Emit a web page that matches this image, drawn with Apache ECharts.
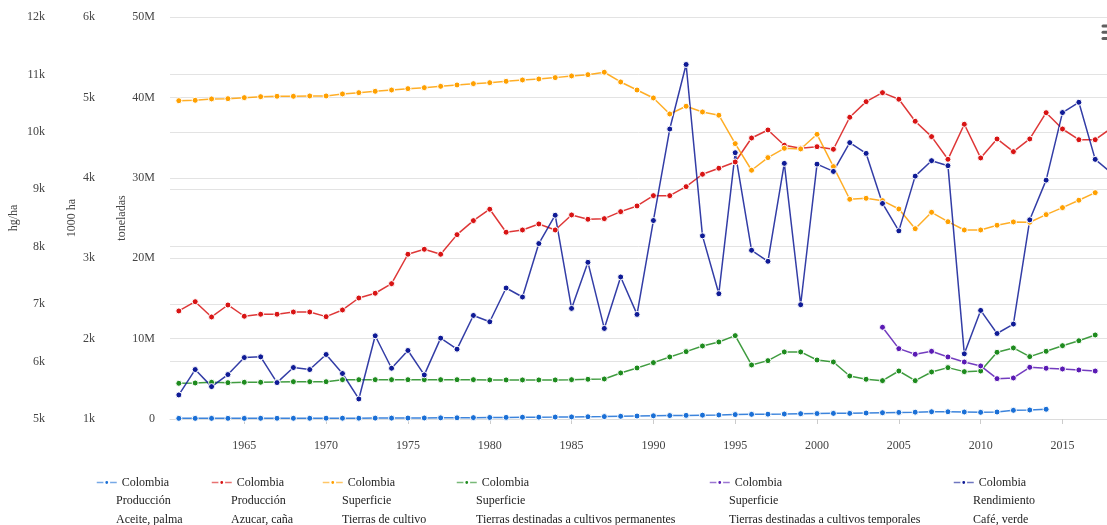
<!DOCTYPE html>
<html>
<head>
<meta charset="utf-8">
<script src="https://cdn.jsdelivr.net/npm/echarts@6/dist/echarts.min.js"></script>
<style>
html,body{margin:0;padding:0;background:#fff;}
#container{width:1107px;height:525px;}
</style>
</head>
<body>
<div id="container"></div>
<script>
// years 1961 - 2018
var years = [];
for (var y = 1961; y <= 2018; y++) { years.push(y); }

var xTicks = [1965, 1970, 1975, 1980, 1985, 1990, 1995, 2000, 2005, 2010, 2015];

// toneladas
var palmaProd = [0.08,0.08,0.08,0.08,0.08,0.09,0.09,0.09,0.09,0.1,0.1,0.1,0.11,0.11,0.12,0.13,0.14,0.15,0.17,0.19,
  0.2,0.22,0.23,0.24,0.26,0.28,0.3,0.34,0.37,0.4,0.43,0.45,0.48,0.5,0.55,0.58,0.6,0.62,0.66,0.68,
  0.7,0.7,0.74,0.78,0.82,0.85,0.9,0.9,0.87,0.83,0.87,1.08,1.12,1.21,null,null,null,null];
var canaProd = [13.44,14.59,12.69,14.18,12.78,13.03,13.03,13.31,13.31,12.73,13.56,15.05,15.64,16.83,20.49,21.11,20.49,22.93,24.67,26.09,
  23.23,23.51,24.26,23.51,25.38,24.84,24.92,25.79,26.5,27.78,27.78,28.9,30.44,31.19,31.97,34.95,35.95,34.05,33.67,33.87,
  33.55,37.53,39.47,40.59,39.77,37.03,35.12,32.3,36.66,32.47,34.83,33.25,34.83,38.1,36.07,34.74,34.74,36.2];
// 1000 ha
var tierrasCultivo = [4959,4964,4981,4984,4997,5009,5014,5014,5018,5018,5043,5059,5076,5092,5109,5121,5138,5155,5171,5183,
  5200,5217,5229,5246,5267,5283,5313,5192,5092,4993,4794,4890,4819,4778,4425,4094,4251,4367,4359,4541,
  4139,3733,3745,3716,3612,3367,3571,3454,3351,3351,3410,3451,3447,3542,3629,3721,3815,null];
var tierrasPermanentes = [1444,1448,1457,1452,1457,1457,1461,1464,1464,1464,1489,1489,1489,1489,1489,1489,1489,1489,1489,1486,
  1486,1486,1486,1486,1489,1494,1498,1573,1635,1701,1772,1838,1908,1958,2037,1672,1726,1834,1834,1734,
  1709,1535,1494,1477,1597,1477,1585,1639,1589,1597,1830,1884,1776,1842,1912,1974,2045,null];
var tierrasTemporales = [null,null,null,null,null,null,null,null,null,null,null,null,null,null,null,null,null,null,null,null,
  null,null,null,null,null,null,null,null,null,null,null,null,null,null,null,null,null,null,null,null,
  null,null,null,2141,1875,1805,1842,1772,1709,1660,1502,1510,1643,1631,1622,1610,1597,null];
// hg/ha
var cafeRend = [5419,5861,5564,5774,6070,6082,5634,5896,5861,6123,5792,5349,6449,5884,6193,5768,6408,6216,6803,6693,
  7281,7124,8055,8548,6926,7728,6577,7473,6821,8456,10049,11173,8189,7182,9637,7938,7746,9451,6990,9438,
  9311,9812,9625,8753,8276,9229,9498,9411,6135,6891,6489,6653,8468,9159,10336,10515,9521,9280];

var legendLines = [
  ['Colombia', 'Producción', 'Aceite, palma'],
  ['Colombia', 'Producción', 'Azucar, caña'],
  ['Colombia', 'Superficie', 'Tierras de cultivo'],
  ['Colombia', 'Superficie', 'Tierras destinadas a cultivos permanentes'],
  ['Colombia', 'Superficie', 'Tierras destinadas a cultivos temporales'],
  ['Colombia', 'Rendimiento', 'Café, verde']
];
var legendX = [116, 231, 342, 476, 729, 973];
var colors = ['#1a6fd6', '#d81414', '#ffa000', '#1e8b1e', '#5a1ab4', '#0f1b96'];

var FONT = '"Liberation Serif", "DejaVu Serif", serif';

function $each(arr, fn) { for (var i = 0; i < arr.length; i++) fn(i, arr[i]); }
function $extend(a, b) { for (var k in b) a[k] = b[k]; return a; }

function pairs(values, scale) {
  var out = [];
  for (var i = 0; i < years.length; i++) {
    if (values[i] != null) out.push([years[i], values[i] * scale]);
  }
  return out;
}

function kFmt(v) { return v / 1000 + 'k'; }

var chart = echarts.init(document.getElementById('container'));

var seriesDefs = [
  { data: pairs(palmaProd, 1e6), yAxisIndex: 0 },
  { data: pairs(canaProd, 1e6), yAxisIndex: 0 },
  { data: pairs(tierrasCultivo, 1), yAxisIndex: 1 },
  { data: pairs(tierrasPermanentes, 1), yAxisIndex: 1 },
  { data: pairs(tierrasTemporales, 1), yAxisIndex: 1 },
  { data: pairs(cafeRend, 1), yAxisIndex: 2 }
];

var series = [];
var legends = [];
var graphics = [];
$each(seriesDefs, function (i, s) {
  var name = legendLines[i].join(' ');
  series.push({
    name: name,
    type: 'line',
    yAxisIndex: s.yAxisIndex,
    data: s.data,
    symbol: 'circle',
    symbolSize: 6,
    showAllSymbol: true,
    clip: true,
    itemStyle: { color: colors[i], borderColor: '#fff', borderWidth: 1 },
    lineStyle: { color: colors[i], width: 1.5, opacity: 0.85 },
    emphasis: { disabled: true }
  });
  // legend: icon + first line, the two other lines as plain text below
  legends.push({
    data: [name],
    left: legendX[i] - 25,
    top: 468.5,
    itemWidth: 20,
    itemHeight: 6,
    selectedMode: false,
    formatter: function () { return legendLines[i][0]; },
    lineStyle: { width: 1.5, opacity: 0.6 },
    textStyle: { fontFamily: FONT, fontSize: 12, color: '#222', lineHeight: 18 }
  });
  for (var k = 1; k < 3; k++) {
    graphics.push({
      type: 'text',
      left: legendX[i],
      top: 477 + k * 18.3,
      style: { text: legendLines[i][k], font: '12px ' + FONT, fill: '#222' }
    });
  }
});

// menu icon (cut at the right edge)
$each([24.5, 30.7, 37], function (i, yy) {
  graphics.push({ type: 'rect', shape: { x: 1101.5, y: yy, width: 10, height: 3, r: 1.5 }, style: { fill: '#5f5f5f' } });
});

var axisLabelStyle = { fontFamily: FONT, fontSize: 12, color: '#444' };
var nameStyle = { fontFamily: FONT, fontSize: 12, color: '#444' };

var option = {
  animation: false,
  grid: { left: 170, right: 0, top: 17, bottom: 106, outerBoundsMode: 'none', containLabel: false },
  legend: legends,
  graphic: graphics,
  xAxis: {
    type: 'value',
    min: 1960.46,
    max: 2017.72,
    splitLine: { show: false },
    axisLine: { show: true, lineStyle: { color: '#dcdcdc', width: 1 } },
    axisTick: { show: true, customValues: xTicks, length: 5, lineStyle: { color: '#ccc' } },
    axisLabel: $extend({ customValues: xTicks, margin: 21, formatter: function (v) { return String(v); } }, axisLabelStyle)
  },
  yAxis: [
    {
      type: 'value', position: 'left', offset: 0,
      min: 0, max: 50e6, interval: 10e6,
      name: 'toneladas', nameLocation: 'middle', nameGap: 42, nameMoveOverlap: false, nameTextStyle: nameStyle,
      axisLine: { show: false }, axisTick: { show: false },
      splitLine: { show: true, lineStyle: { color: '#e3e3e3', width: 1 } },
      axisLabel: $extend({ margin: 15, formatter: function (v) { return v === 0 ? '0' : v / 1e6 + 'M'; } }, axisLabelStyle)
    },
    {
      type: 'value', position: 'left', offset: 60,
      min: 1000, max: 6000, interval: 1000,
      name: '1000 ha', nameLocation: 'middle', nameGap: 32, nameMoveOverlap: false, nameTextStyle: nameStyle,
      axisLine: { show: false }, axisTick: { show: false },
      splitLine: { show: false },
      axisLabel: $extend({ margin: 15, formatter: kFmt }, axisLabelStyle)
    },
    {
      type: 'value', position: 'left', offset: 110,
      min: 5000, max: 12000, interval: 1000,
      name: 'hg/ha', nameLocation: 'middle', nameGap: 40, nameMoveOverlap: false, nameTextStyle: nameStyle,
      axisLine: { show: false }, axisTick: { show: false },
      splitLine: { show: true, lineStyle: { color: '#e3e3e3', width: 1 } },
      axisLabel: $extend({ margin: 15, formatter: kFmt }, axisLabelStyle)
    }
  ],
  series: series
};

chart.setOption(option);
</script>
</body>
</html>
